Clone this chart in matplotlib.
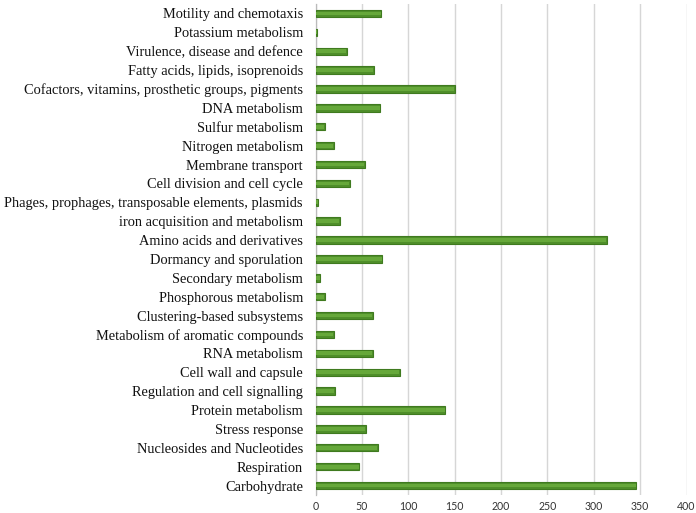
import matplotlib
matplotlib.use("Agg")
import matplotlib.pyplot as plt

categories = [
    "Motility and chemotaxis",
    "Potassium metabolism",
    "Virulence, disease and defence",
    "Fatty acids, lipids, isoprenoids",
    "Cofactors, vitamins, prosthetic groups, pigments",
    "DNA metabolism",
    "Sulfur metabolism",
    "Nitrogen metabolism",
    "Membrane transport",
    "Cell division and cell cycle",
    "Phages, prophages, transposable elements, plasmids",
    "iron acquisition and metabolism",
    "Amino acids and derivatives",
    "Dormancy and sporulation",
    "Secondary metabolism",
    "Phosphorous metabolism",
    "Clustering-based subsystems",
    "Metabolism of aromatic compounds",
    "RNA metabolism",
    "Cell wall and capsule",
    "Regulation and cell signalling",
    "Protein metabolism",
    "Stress response",
    "Nucleosides and Nucleotides",
    "Respiration",
    "Carbohydrate",
]
values = [71, 2, 34, 63, 150, 70, 10, 20, 53, 37, 3, 26, 314, 72, 5, 10,
          62, 20, 62, 91, 21, 140, 54, 67, 47, 346]
xticks = [0, 50, 100, 150, 200, 250, 300, 350, 400]

fig = plt.figure(figsize=(6.96, 5.13), dpi=100)
ax = fig.add_axes([315.5 / 696, 1 - 495 / 513, (686.5 - 315.5) / 696, (495 - 4) / 513])

n = len(categories)
ypos = list(range(n))[::-1]
ax.barh(ypos, values, height=0.39, color="#4F8F2A", edgecolor="#3F7A1F", linewidth=0.8, zorder=3)
# lighter inner highlight to mimic gradient fill
ax.barh(ypos, [max(v - 1.2, 0) for v in values], left=0.6, height=0.2,
        color="#66A83A", linewidth=0, zorder=4)

ax.set_xlim(0, 400)
ax.set_ylim(-0.5, n - 0.5)
ax.set_yticks(ypos)
ax.set_yticklabels(categories, fontfamily="Liberation Serif", fontsize=10.35, color="#111111")
ax.set_xticks(xticks)
ax.set_xticklabels([str(t) for t in xticks], fontfamily="Lato", fontsize=7.6, color="#333333")
ax.tick_params(axis="y", length=0, pad=9)
ax.tick_params(axis="x", length=0, pad=4.5)
ax.xaxis.grid(True, color="#D6D6D6", linewidth=1.0, zorder=0)
ax.yaxis.grid(False)
for s in ["top", "right", "bottom"]:
    ax.spines[s].set_visible(False)
ax.spines["left"].set_color("#BBBBBB")
ax.spines["left"].set_linewidth(0.9)

fig.savefig("out.png", dpi=100)
